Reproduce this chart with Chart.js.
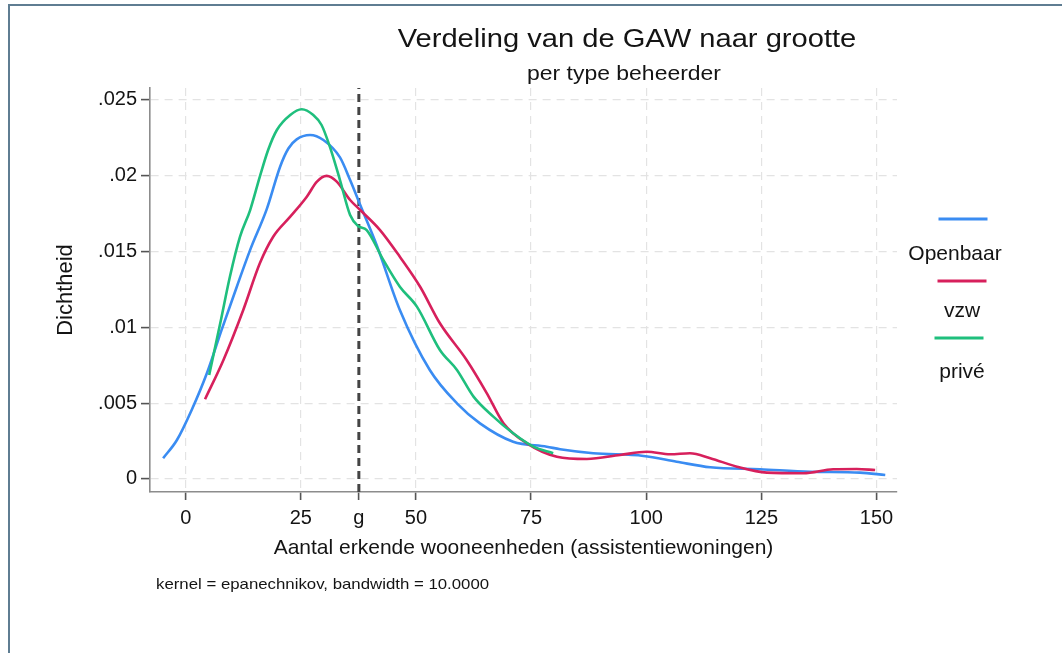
<!DOCTYPE html>
<html>
<head>
<meta charset="utf-8">
<script src="https://cdn.jsdelivr.net/npm/chart.js@4/dist/chart.umd.min.js"></script>
<style>
  html, body { margin: 0; padding: 0; background: #fff; }
  #wrap { position: relative; width: 1062px; height: 653px; overflow: hidden; background: #fff; }
  #wrap canvas { position: absolute; left: 0; top: 0; }
  #frame { position: absolute; left: 8px; top: 4px; right: -4px; bottom: -4px;
           border-top: 2px solid #5f7d92; border-left: 2px solid #5f7d92; pointer-events: none; }
</style>
</head>
<body>
<div id="wrap">
  <canvas id="chart" width="1062" height="653"></canvas>
  <div id="frame"></div>
</div>
<script>
// Kernel density estimates of number of recognised units, per type of operator
const seriesNames = ['Openbaar', 'vzw', 'privé'];

const openbaarX = [-4.9, -1.9, 1.3, 4.6, 7.8, 11.1, 14.0, 17.6, 20.5, 22.3, 24.1, 27.0, 29.9, 33.5, 35.7, 37.9, 41.5,
                   46.5, 53.0, 58.9, 63.9, 71.1, 78.4, 81.3, 88.5, 99.4, 106.6, 113.9, 124.7, 135.6, 146.4, 151.9];
const openbaarY = [0.00137, 0.00257, 0.00455, 0.00697, 0.00983, 0.01268, 0.01511, 0.01780, 0.02060, 0.02180, 0.02240,
                   0.02269, 0.02236, 0.02121, 0.01972, 0.01807, 0.01540, 0.01115, 0.00719, 0.00499, 0.00367,
                   0.00246, 0.00213, 0.00196, 0.00170, 0.00152, 0.00114, 0.00077, 0.00064, 0.00048, 0.00042, 0.00026];

const vzwX = [4.2, 8.2, 12.5, 16.1, 19.0, 22.7, 26.3, 28.5, 30.6, 32.8, 35.7, 37.9, 42.2, 46.5, 50.9, 55.2, 61.0,
              65.4, 69.0, 74.1, 80.6, 87.1, 94.3, 100.1, 105.2, 109.5, 113.9, 119.7, 126.2, 134.1, 140.6, 145.7, 149.7];
const vzwY = [0.00526, 0.00785, 0.01115, 0.01423, 0.01598, 0.01730, 0.01862, 0.01961, 0.01999, 0.01961, 0.01840,
              0.01774, 0.01642, 0.01466, 0.01268, 0.01027, 0.00785, 0.00565, 0.00368, 0.00235, 0.00147, 0.00132,
              0.00158, 0.00180, 0.00163, 0.00170, 0.00137, 0.00081, 0.00042, 0.00038, 0.00064, 0.00066, 0.00059];

const priveX = [5.1, 7.5, 9.6, 11.8, 14.0, 16.1, 17.9, 19.8, 22.7, 25.2, 27.7, 29.5, 31.3, 33.5, 35.7, 37.4, 39.3,
                42.9, 46.5, 50.2, 55.2, 58.9, 62.5, 66.8, 71.1, 75.5, 79.8];
const priveY = [0.00686, 0.01027, 0.01334, 0.01598, 0.01774, 0.01994, 0.02170, 0.02302, 0.02401, 0.02439, 0.02401,
                0.02335, 0.02192, 0.01972, 0.01741, 0.01669, 0.01642, 0.01445, 0.01268, 0.01137, 0.00851, 0.00719,
                0.00543, 0.00411, 0.00301, 0.00213, 0.00170];

// mean group size, marked on the axis as "g"
const gMean = 37.6;

const xTickValues = [0, 25, 50, 75, 100, 125, 150];
const yTickValues = [0, 0.005, 0.01, 0.015, 0.02, 0.025];
const yTickLabels = ['0', '.005', '.01', '.015', '.02', '.025'];

const titleText = 'Verdeling van de GAW naar grootte';
const subtitleText = 'per type beheerder';
const xTitleText = 'Aantal erkende wooneenheden (assistentiewoningen)';
const yTitleText = 'Dichtheid';
const noteText = 'kernel = epanechnikov, bandwidth = 10.0000';

const seriesColors = ['#3a8cf2', '#d7205c', '#1fbf7d'];
const xRange = [-7.75, 154.45];
const yRange = [-0.00086, 0.02579];

const toPoints = (xs, ys) => xs.map((x, i) => ({ x: x, y: ys[i] }));

const FONT = '"Liberation Sans", Arial, Helvetica, sans-serif';
const TEXT_COLOR = '#141414';
Chart.defaults.font.family = FONT;
Chart.defaults.color = TEXT_COLOR;

// Titles, note and the stacked legend drawn on the canvas
const textPlugin = {
  id: 'stataTexts',
  afterDraw(chart) {
    const ctx = chart.ctx;
    const txt = (s, x, y, size, sx, align) => {
      ctx.save();
      ctx.font = size + 'px ' + FONT;
      ctx.fillStyle = TEXT_COLOR;
      ctx.textBaseline = 'alphabetic';
      ctx.textAlign = align;
      ctx.translate(x, y);
      ctx.scale(sx, 1);
      ctx.fillText(s, 0, 0);
      ctx.restore();
    };
    txt(titleText, 627, 47, 26, 1.12, 'center');
    txt(subtitleText, 624, 80, 20.5, 1.12, 'center');
    txt(noteText, 156, 589, 15, 1.12, 'left');

    // legend: key line above its label, one entry per row
    const lineCx = [963, 962, 959];
    const textCx = [955, 962, 962];
    const lineY = [219, 281, 338];
    const textY = [260, 317, 378];
    chart.data.datasets.slice(0, 3).forEach((ds, i) => {
      ctx.save();
      ctx.strokeStyle = ds.borderColor;
      ctx.lineWidth = 3;
      ctx.beginPath();
      ctx.moveTo(lineCx[i] - 24.5, lineY[i]);
      ctx.lineTo(lineCx[i] + 24.5, lineY[i]);
      ctx.stroke();
      ctx.restore();
      txt(ds.label, textCx[i], textY[i], 21, 1.0, 'center');
    });
  }
};

const gridColor = '#e3e3e3';

new Chart(document.getElementById('chart'), {
  type: 'line',
  data: {
    datasets: [
      { label: seriesNames[0], data: toPoints(openbaarX, openbaarY), borderColor: seriesColors[0], order: 3 },
      { label: seriesNames[1], data: toPoints(vzwX, vzwY), borderColor: seriesColors[1], order: 2 },
      { label: seriesNames[2], data: toPoints(priveX, priveY), borderColor: seriesColors[2], order: 1 },
      { label: 'g', data: [{ x: gMean, y: yRange[0] }, { x: gMean, y: yRange[1] }],
        borderColor: '#444', borderWidth: 3, borderDash: [8, 5], cubicInterpolationMode: 'default',
        tension: 0, order: 4 }
    ]
  },
  options: {
    responsive: false,
    animation: false,
    devicePixelRatio: 1,
    layout: { padding: { top: 88, left: 0, right: 165, bottom: 92 } },
    elements: {
      point: { radius: 0, hoverRadius: 0 },
      line: { borderWidth: 2.6, cubicInterpolationMode: 'monotone', fill: false }
    },
    plugins: {
      legend: { display: false },
      tooltip: { enabled: false },
      title: { display: false }
    },
    scales: {
      x: {
        type: 'linear',
        min: xRange[0],
        max: xRange[1],
        afterBuildTicks: (scale) => {
          scale.ticks = xTickValues.concat([gMean]).sort((a, b) => a - b).map(v => ({ value: v }));
        },
        afterFit: (scale) => { scale.height = 69; },
        ticks: {
          autoSkip: false,
          maxRotation: 0,
          padding: 6,
          color: TEXT_COLOR,
          font: { size: 20 },
          callback: (value) => (value === gMean ? 'g' : String(value))
        },
        grid: {
          color: (c) => (c.tick && c.tick.value === gMean ? 'rgba(0,0,0,0)' : gridColor),
          lineWidth: 1.2,
          drawTicks: true,
          tickLength: 8,
          tickColor: '#555',
          tickWidth: 1.6
        },
        border: { display: true, color: '#8c8c8c', width: 1.6, dash: [8, 6] },
        title: { display: true, text: xTitleText, font: { size: 21 }, color: TEXT_COLOR, padding: { top: 0, bottom: 0 } }
      },
      y: {
        type: 'linear',
        min: yRange[0],
        max: yRange[1],
        afterBuildTicks: (scale) => {
          scale.ticks = yTickValues.map(v => ({ value: v }));
        },
        afterFit: (scale) => { scale.width = 150; },
        ticks: {
          autoSkip: false,
          padding: 4,
          color: TEXT_COLOR,
          font: { size: 20 },
          callback: (value, index) => yTickLabels[index]
        },
        grid: {
          color: gridColor,
          lineWidth: 1.2,
          drawTicks: true,
          tickLength: 9,
          tickColor: '#555',
          tickWidth: 1.6
        },
        border: { display: true, color: '#8c8c8c', width: 1.6, dash: [8, 6] },
        title: { display: true, text: yTitleText, font: { size: 22 }, color: TEXT_COLOR, padding: { top: 53, bottom: 0 } }
      }
    }
  },
  plugins: [textPlugin]
});
</script>
</body>
</html>
